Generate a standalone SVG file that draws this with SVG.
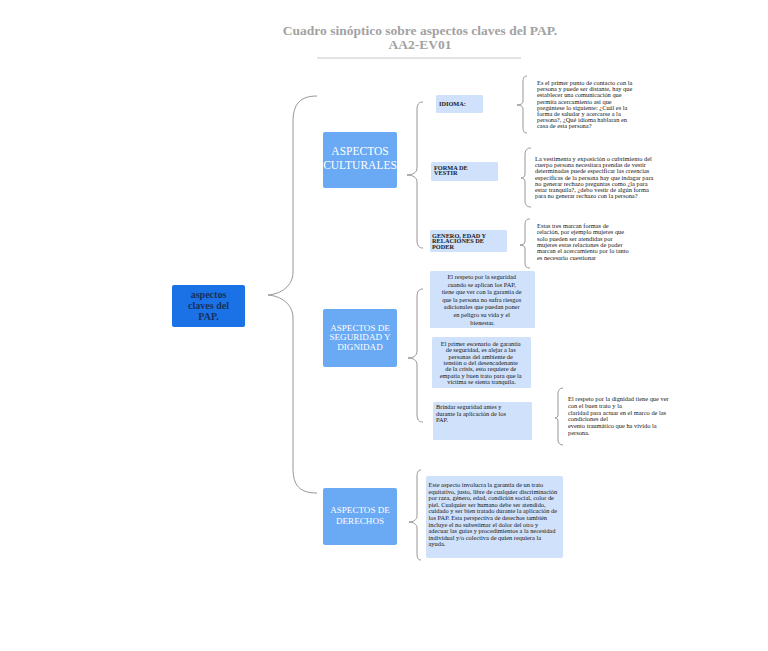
<svg xmlns="http://www.w3.org/2000/svg" width="768" height="651" viewBox="0 0 768 651">
<style>
.title{font-family:"Liberation Serif",serif;font-weight:bold;fill:#a2a2a2;text-anchor:middle}
.main{fill:#1b72e6}
.sec{fill:#6aa9f4}
.lite{fill:#cfe1fb}
.maint{font-family:"Liberation Serif",serif;font-weight:bold;font-size:10px;fill:#16305c;text-anchor:middle}
.sect{font-family:"Liberation Serif",serif;fill:#ffffff;text-anchor:middle}
.lab{font-family:"Liberation Serif",serif;font-weight:bold;font-size:6.3px;fill:#1a1a1a}
.sm{font-family:"Liberation Serif",serif;font-size:6.4px;fill:#151515}
.brace{fill:none;stroke:#8a8a8a;stroke-width:0.9}
</style>
<rect width="768" height="651" fill="#ffffff"/>
<g id="title">
<text class="title" x="420" y="35" font-size="13.5">Cuadro sinóptico sobre aspectos claves del PAP.</text>
<text class="title" x="420" y="49" font-size="13.5">AA2-EV01</text>
<line x1="317" y1="58" x2="521" y2="58" stroke="#c8c8c8" stroke-width="1"/>
</g>
<g id="connectors">
<path class="brace" d="M317,96 C300,96 293,104 293,122 L293,272 C293,286 281,294 268,295 C281,296 293,304 293,318 L293,468 C293,486 300,493 317,493"/>
<path class="brace" d="M423,102 C419,102 417,104 417,110 L417,168 C417,173 412,175 407,175 C412,175 417,177 417,182 L417,240 C417,246 419,248 423,248"/>
<path class="brace" d="M423,289 C419,289 417,291 417,297 L417,351 C417,356 413,358 408,358 C413,358 417,360 417,365 L417,414 C417,420 419,422 423,422"/>
<path class="brace" d="M421,470 C418,470 417,472 417,477 L417,516 C417,520 413,522 409,522 C413,522 417,524 417,528 L417,553 C417,558 418,560 421,560"/>
<path class="brace" d="M527,76 C524,76 523,78 523,82 L523,101 C523,104 520,105 517,105 C520,105 523,106 523,109 L523,127 C523,131 524,133 527,133"/>
<path class="brace" d="M531,148 C527,148 525,150 525,155 L525,174 C525,177 523,178 521,178 C523,178 525,179 525,182 L525,201 C525,205 527,207 531,207"/>
<path class="brace" d="M530,219 C526,219 525,221 525,225 L525,241 C525,244 523,245 520,245 C523,245 525,246 525,249 L525,263 C525,266 526,268 530,268"/>
<path class="brace" d="M563,388 C560,388 558,390 558,394 L558,414 C558,417 557,418 555,418 C557,418 558,419 558,422 L558,440 C558,443 560,445 563,445"/>
</g>
<g id="node-main">
<rect class="main" x="172" y="285" width="73" height="42" rx="2"/>
<text class="maint" x="208.5" y="298">aspectos</text>
<text class="maint" x="208.5" y="309">claves del</text>
<text class="maint" x="208.5" y="320">PAP.</text>
</g>
<g id="node-culturales">
<rect class="sec" x="323" y="132" width="74" height="56" rx="2"/>
<text class="sect" x="360" y="155" font-size="11.5">ASPECTOS</text>
<text class="sect" x="360" y="169" font-size="11.5">CULTURALES</text>
</g>
<g id="node-seguridad">
<rect class="sec" x="323" y="309" width="74" height="58" rx="2"/>
<text class="sect" x="360" y="331" font-size="9.1">ASPECTOS DE</text>
<text class="sect" x="360" y="339.8" font-size="9.1">SEGURIDAD Y</text>
<text class="sect" x="360" y="349.5" font-size="9.1">DIGNIDAD</text>
</g>
<g id="node-derechos">
<rect class="sec" x="323" y="488" width="74" height="57" rx="2"/>
<text class="sect" x="360" y="513" font-size="9.1">ASPECTOS DE</text>
<text class="sect" x="360" y="523.5" font-size="9.1">DERECHOS</text>
</g>
<g id="node-idioma">
<rect class="lite" x="436" y="95" width="47" height="18" rx="1.5"/>
<text class="lab" x="439" y="105.5">IDIOMA:</text>
</g>
<g id="text-idioma">
<text class="sm">
<tspan x="537" y="85">Es el primer punto de contacto con la</tspan>
<tspan x="537" y="91.2">persona y puede ser distante, hay que</tspan>
<tspan x="537" y="97.4">establecer una comunicación que</tspan>
<tspan x="537" y="103.6">permita acercamiento así que</tspan>
<tspan x="537" y="109.8">pregúntese lo siguiente: ¿Cuál es la</tspan>
<tspan x="537" y="116">forma de saludar y acercarse a la</tspan>
<tspan x="537" y="122.2">persona?, ¿Qué idioma hablaran en</tspan>
<tspan x="537" y="128.4">casa de esta persona?</tspan>
</text>
</g>
<g id="node-vestir">
<rect class="lite" x="431" y="162" width="67" height="19" rx="1.5"/>
<text class="lab" x="434" y="169.5">FORMA DE</text>
<text class="lab" x="434" y="175">VESTIR</text>
</g>
<g id="text-vestir">
<text class="sm">
<tspan x="535" y="161">La vestimenta y exposición o cubrimiento del</tspan>
<tspan x="535" y="167.2">cuerpo persona necesitara prendas de vestir</tspan>
<tspan x="535" y="173.4">determinadas puede especificar las creencias</tspan>
<tspan x="535" y="179.6">específicas de la persona hay que indagar para</tspan>
<tspan x="535" y="185.8">no generar rechazo preguntas como ¿la para</tspan>
<tspan x="535" y="192">estar tranquila?, ¿debo vestir de algún forma</tspan>
<tspan x="535" y="198.2">para no generar rechazo con la persona?</tspan>
</text>
</g>
<g id="node-genero">
<rect class="lite" x="430" y="230" width="77" height="22" rx="1.5"/>
<text class="lab" x="432" y="237.5">GENERO, EDAD Y</text>
<text class="lab" x="432" y="243">RELACIONES DE</text>
<text class="lab" x="432" y="248.5">PODER</text>
</g>
<g id="text-genero">
<text class="sm">
<tspan x="537" y="228"> Estas tres marcan formas de</tspan>
<tspan x="537" y="234.3">relación, por ejemplo mujeres que</tspan>
<tspan x="537" y="240.6">solo pueden ser atendidas por</tspan>
<tspan x="537" y="246.9">mujeres estas relaciones de poder</tspan>
<tspan x="537" y="253.2">marcan el acercamiento por lo tanto</tspan>
<tspan x="537" y="259.5">es necesario cuestionar</tspan>
</text>
</g>
<g id="node-respeto-seguridad">
<rect class="lite" x="430" y="271" width="105" height="57" rx="1.5"/>
<text class="sm" font-size="8.3" text-anchor="middle">
<tspan x="482.5" y="279">El respeto por la seguridad</tspan>
<tspan x="482.5" y="286.6">cuando se aplican los PAP,</tspan>
<tspan x="482.5" y="294.2">tiene que ver con la garantía de</tspan>
<tspan x="482.5" y="301.8">que la persona no sufra riesgos</tspan>
<tspan x="482.5" y="309.4">adicionales que puedan poner</tspan>
<tspan x="482.5" y="317">en peligro su vida y el</tspan>
<tspan x="482.5" y="324.6">bienestar.</tspan>
</text>
</g>
<g id="node-primer-escenario">
<rect class="lite" x="432" y="337" width="99" height="51" rx="1.5"/>
<text class="sm" font-size="7.6" text-anchor="middle">
<tspan x="481.5" y="346">El primer escenario de garantía</tspan>
<tspan x="481.5" y="352.3">de seguridad, es alejar a las</tspan>
<tspan x="481.5" y="358.6">personas del ambiente de</tspan>
<tspan x="481.5" y="364.9">tensión o del desencadenante</tspan>
<tspan x="481.5" y="371.2">de la crisis, esto requiere de</tspan>
<tspan x="481.5" y="377.5">empatía y buen trato para que la</tspan>
<tspan x="481.5" y="383.8">víctima se sienta tranquila.</tspan>
</text>
</g>
<g id="node-brindar">
<rect class="lite" x="433" y="402" width="99" height="38" rx="1.5"/>
<text class="sm" font-size="6.3">
<tspan x="436" y="409">Brindar seguridad antes y</tspan>
<tspan x="436" y="415.5">durante la aplicación de los</tspan>
<tspan x="436" y="422">PAP.</tspan>
</text>
</g>
<g id="text-dignidad">
<text class="sm">
<tspan x="568" y="401">El respeto por la dignidad tiene que ver</tspan>
<tspan x="568" y="407.8">con el buen trato y la</tspan>
<tspan x="568" y="414.6">claridad para actuar en el marco de las</tspan>
<tspan x="568" y="421.4">condiciones del</tspan>
<tspan x="568" y="428.2">evento traumático que ha vivido la</tspan>
<tspan x="568" y="435">persona.</tspan>
</text>
</g>
<g id="node-derechos-texto">
<rect class="lite" x="426" y="476" width="137" height="82" rx="2"/>
<text class="sm">
<tspan x="428.5" y="487">Este aspecto involucra la garantía de un trato</tspan>
<tspan x="428.5" y="493.6">equitativo, justo, libre de cualquier discriminación</tspan>
<tspan x="428.5" y="500.2">por raza, género, edad, condición social, color de</tspan>
<tspan x="428.5" y="506.8">piel. Cualquier ser humano debe ser atendido,</tspan>
<tspan x="428.5" y="513.4">cuidado y ser bien tratado durante la aplicación de</tspan>
<tspan x="428.5" y="520">los PAP. Esta perspectiva de derechos también</tspan>
<tspan x="428.5" y="526.6">incluye el no subestimar el dolor del otro y</tspan>
<tspan x="428.5" y="533.2">adecuar las guías y procedimientos a la necesidad</tspan>
<tspan x="428.5" y="539.8">individual y/o colectiva de quien requiera la</tspan>
<tspan x="428.5" y="546.4">ayuda.</tspan>
</text>
</g>
</svg>
